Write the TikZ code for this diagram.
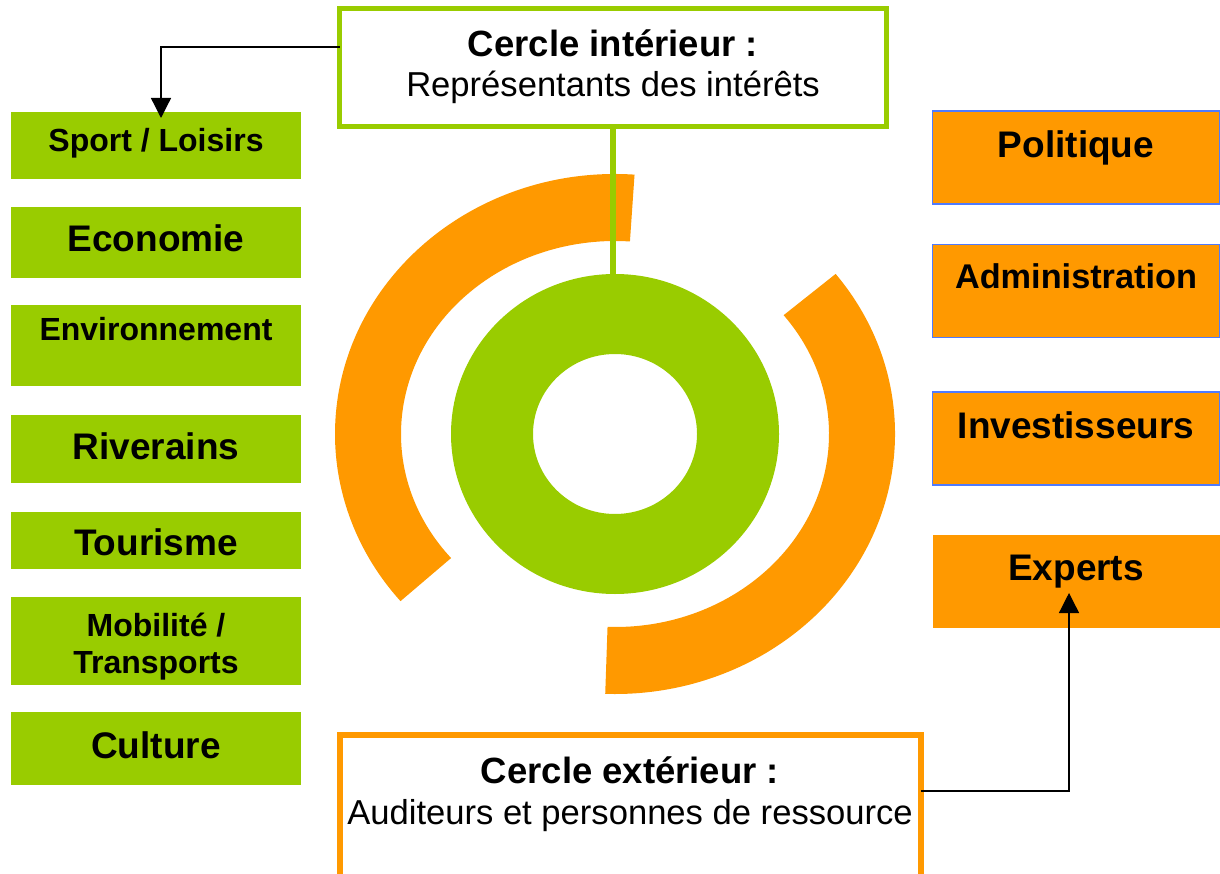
\documentclass[tikz,border=0pt]{standalone}
\usepackage{fontspec}
\setmainfont{Liberation Sans}
\usetikzlibrary{calc,arrows.meta}
\definecolor{leaf}{HTML}{99CC00}
\definecolor{amber}{HTML}{FF9900}
\definecolor{edgeblue}{HTML}{4F7BFF}

\begin{document}
\begin{tikzpicture}[x=1pt,y=-1pt,
  lbox/.style={fill=leaf, minimum width=290pt, inner sep=0pt, outer sep=0pt},
  rbox/.style={fill=amber, draw=edgeblue, line width=1.4pt, minimum width=287pt,
               minimum height=93pt, inner sep=0pt, outer sep=0pt},
  ebox/.style={fill=amber, minimum width=287pt, minimum height=93pt, inner sep=0pt, outer sep=0pt},
  frame/.style={fill=white, inner sep=0pt, outer sep=0pt},
  bigtxt/.style={anchor=base, inner sep=0pt, font=\bfseries\fontsize{37}{40}\selectfont},
  midtxt/.style={anchor=base, inner sep=0pt, font=\bfseries\fontsize{32}{35}\selectfont},
  headtxt/.style={anchor=base, inner sep=0pt, font=\bfseries\fontsize{36.5}{40}\selectfont},
  subtxt/.style={anchor=base, inner sep=0pt, font=\fontsize{34.6}{38}\selectfont},
  conn/.style={line width=1.3pt, -{Triangle[width=20pt,length=20pt]}}
]
\useasboundingbox (0,0) rectangle (1220,874);
\clip (0,0) rectangle (1220,874);

% concentric rings
\coordinate (c) at (615,434);
\fill[amber] ($(c)+(-86:280 and 260)$)
  arc[start angle=-86, end angle=-220, x radius=280, y radius=260]
  -- ($(c)+(-220:214 and 193)$)
  arc[start angle=-220, end angle=-86, x radius=214, y radius=193] -- cycle;
\fill[amber] ($(c)+(-38:280 and 260)$)
  arc[start angle=-38, end angle=92, x radius=280, y radius=260]
  -- ($(c)+(92:214 and 193)$)
  arc[start angle=92, end angle=-38, x radius=214, y radius=193] -- cycle;
\fill[leaf, even odd rule] (c) ellipse[x radius=164, y radius=160]
  (c) ellipse[x radius=82, y radius=80];
\coordinate (ringtop) at (615,274);

% inner circle caption
\node[frame, draw=leaf, line width=5pt, minimum width=547pt, minimum height=118pt]
  (inner) at (613,67.5) {};
\node[headtxt] (innerhead) at (613,57) {Cercle intérieur :};
\node[subtxt] (innersub) at (613,97) {Représentants des intérêts};
\draw[leaf, line width=5.5pt] (inner.south) -- (inner.south |- ringtop);

% outer circle caption
\node[frame, draw=amber, line width=6pt, minimum width=581pt, minimum height=200pt]
  (outerbox) at (630.5,835) {};
\node[headtxt] (outerhead) at (630,783) {Cercle extérieur :};
\node[subtxt] (outersub) at (630,824) {Auditeurs et personnes de ressource};

% interest groups
\node[lbox, minimum height=67.5pt] (sport) at (156,145.75) {};
\node[midtxt] (sportt) at (156,152) {Sport / Loisirs};
\node[lbox, minimum height=71pt] (eco) at (156,242.5) {};
\node[bigtxt] (ecot) at (156,252) {Economie};
\node[lbox, minimum height=81pt] (env) at (156,345.5) {};
\node[midtxt] (envt) at (156,341) {Environnement};
\node[lbox, minimum height=68pt] (riv) at (156,449) {};
\node[bigtxt] (rivt) at (156,459) {Riverains};
\node[lbox, minimum height=57pt] (tour) at (156,540.5) {};
\node[bigtxt] (tourt) at (156,555) {Tourisme};
\node[lbox, minimum height=88pt] (mob) at (156,641) {};
\node[midtxt] (mobt) at (156,636) {Mobilité /};
\node[midtxt] (mobu) at (156,673) {Transports};
\node[lbox, minimum height=73pt] (cult) at (156,748.5) {};
\node[bigtxt] (cultt) at (156,758) {Culture};

% auditors and resource persons
\node[rbox] (pol) at (1076,157.5) {};
\node[bigtxt] (polt) at (1076,158) {Politique};
\node[rbox] (adm) at (1076,291) {};
\node[bigtxt, font=\bfseries\fontsize{34.3}{38}\selectfont] (admt) at (1076,289) {Administration};
\node[rbox] (inv) at (1076,438.5) {};
\node[bigtxt] (invt) at (1076,438) {Investisseurs};
\node[ebox] (experts) at (1076.5,581.5) {};
\node[bigtxt] (expt) at (1076,580) {Experts};

% connectors
\draw[conn] ([yshift=20.5pt]inner.west) -| ([xshift=5pt,yshift=-6pt]sport.north);
\draw[conn] ([yshift=44pt]outerbox.east) -| ([xshift=-7.5pt,yshift=35pt]experts.south);
\end{tikzpicture}
\end{document}
